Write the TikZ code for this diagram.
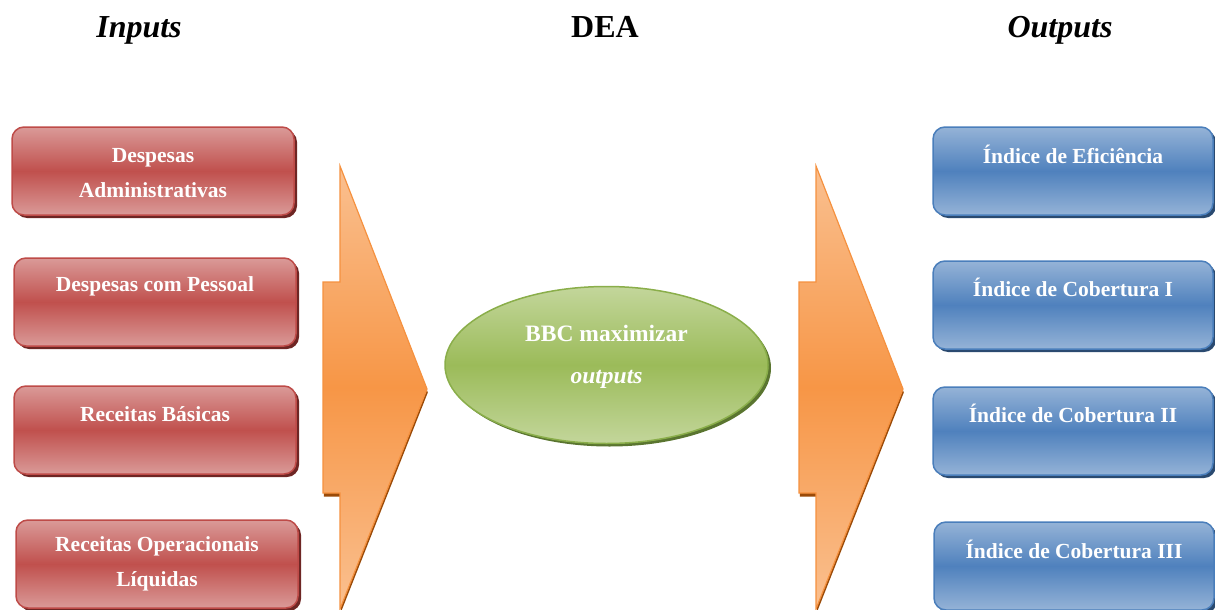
\documentclass[tikz,border=0pt]{standalone}
\usepackage{fontspec}
\setmainfont{Liberation Serif}
\usetikzlibrary{shapes.geometric,shadows}
\definecolor{redlight}{HTML}{DA9A98}
\definecolor{reddark}{HTML}{C0504D}
\definecolor{redline}{HTML}{BE4B48}
\definecolor{redshadow}{HTML}{6E2624}
\definecolor{bluelight}{HTML}{95B3D7}
\definecolor{bluedark}{HTML}{4F81BD}
\definecolor{blueline}{HTML}{4A7EBB}
\definecolor{blueshadow}{HTML}{2A4A70}
\definecolor{greenlight}{HTML}{C3D69B}
\definecolor{greendark}{HTML}{9BBB59}
\definecolor{greenline}{HTML}{8AAE4A}
\definecolor{greenshadow}{HTML}{5A7530}
\definecolor{orangelight}{HTML}{FAC090}
\definecolor{orangedark}{HTML}{F79646}
\definecolor{orangeline}{HTML}{F5913F}
\definecolor{orangeshadow}{HTML}{9A4A08}
\tikzset{
  box/.style={rectangle, rounded corners=12pt, minimum width=282pt, minimum height=88pt, inner sep=0pt, line width=1.5pt},
  redbox/.style={box, draw=redline, top color=redlight, bottom color=redlight, middle color=reddark,
    general shadow={shadow xshift=3pt, shadow yshift=-3pt, fill=redshadow}},
  bluebox/.style={box, minimum width=280pt, draw=blueline, top color=bluelight, bottom color=bluelight, middle color=bluedark,
    general shadow={shadow xshift=3pt, shadow yshift=-3pt, fill=blueshadow}},
  btext/.style={text=white, font=\fontsize{21.5}{35}\selectfont\bfseries, align=center, inner sep=0pt},
  etext/.style={text=white, font=\fontsize{23.5}{42}\selectfont\bfseries, align=center, inner sep=0pt},
  ttext/.style={font=\fontsize{32}{38}\selectfont\bfseries, inner sep=0pt, anchor=base},
  bigarrow/.style={draw=orangeline, line width=1.2pt, line join=miter, top color=orangelight, bottom color=orangelight, middle color=orangedark,
    general shadow={shadow xshift=0.8pt, shadow yshift=-3.5pt, fill=orangeshadow}},
}
\begin{document}
\begin{tikzpicture}[x=1pt,y=-1pt]
\useasboundingbox (0,0) rectangle (1215,610);
% titles
\node[ttext] (tin) at (139,38) {\itshape Inputs};
\node[ttext] (tdea) at (605,38) {DEA};
\node[ttext] (tout) at (1060,38) {\itshape Outputs};
% input boxes
\node[redbox] (in1) at (153,171) {};
\node[redbox] (in2) at (155,302) {};
\node[redbox] (in3) at (155,430) {};
\node[redbox] (in4) at (157,564) {};
\node[btext] (in1t) at (153,173.5) {Despesas\\Administrativas};
\node[btext] (in2t) at (155,286) {Despesas com Pessoal};
\node[btext] (in3t) at (155,414) {Receitas Básicas};
\node[btext] (in4t) at (157,563.5) {Receitas Operacionais\\Líquidas};
% output boxes
\node[bluebox] (out1) at (1073,171) {};
\node[bluebox] (out2) at (1073,305) {};
\node[bluebox] (out3) at (1073,431) {};
\node[bluebox] (out4) at (1074,566) {};
\node[btext] (out1t) at (1073,154) {Índice de Eficiência};
\node[btext] (out2t) at (1073,287) {Índice de Cobertura I};
\node[btext] (out3t) at (1073,413) {Índice de Cobertura II};
\node[btext] (out4t) at (1074,549) {Índice de Cobertura III};
% arrows
\path[bigarrow] (340,166) -- (427,389) -- (340,609) -- (340,493) -- (323,493) -- (323,282) -- (340,282) -- cycle;
\path[bigarrow] (816,166) -- (903,389) -- (816,609) -- (816,493) -- (799,493) -- (799,282) -- (816,282) -- cycle;
% ellipse
\node[ellipse, minimum width=323pt, minimum height=157pt, inner sep=0pt, line width=1.5pt, draw=greenline,
  top color=greenlight, bottom color=greenlight, middle color=greendark,
  general shadow={shadow xshift=3pt, shadow yshift=-3pt, fill=greenshadow}] (dea) at (606.5,365) {};
\node[etext] (deat) at (606.5,357) {BBC maximizar\\\itshape outputs};
\end{tikzpicture}
\end{document}
